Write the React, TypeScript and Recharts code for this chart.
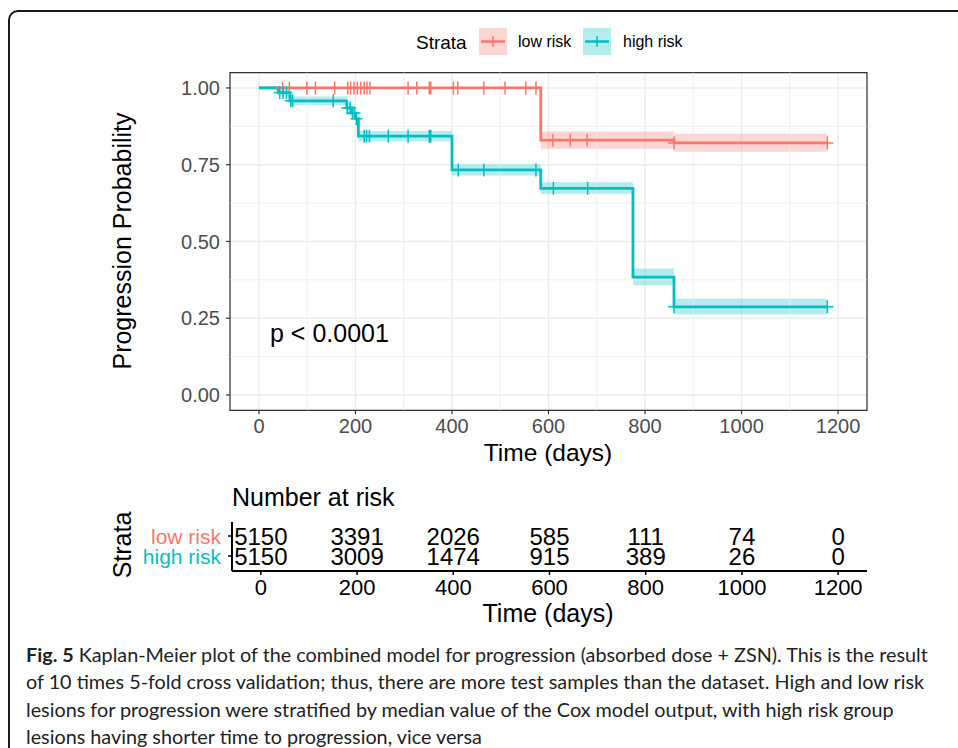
import React from 'react';
import {
  ComposedChart, Line, Area, Scatter, XAxis, YAxis, CartesianGrid,
  ReferenceLine, ReferenceArea,
} from 'recharts';

// Kaplan-Meier steps (time in days, survival, 95% band)
const lowTimes = [0, 584, 860, 1178];
const lowSurv = [1, 0.83, 0.821, 0.821];
const lowLower = [1, 0.802, 0.792, 0.792];
const lowUpper = [1, 0.858, 0.851, 0.851];

const highTimes = [0, 40, 64, 182, 192, 200, 206, 400, 584, 775, 860, 1178];
const highSurv = [1, 0.985, 0.958, 0.935, 0.918, 0.9, 0.843, 0.733, 0.673, 0.384, 0.287, 0.287];
const highLower = [1, 0.975, 0.944, 0.92, 0.902, 0.883, 0.826, 0.715, 0.655, 0.357, 0.262, 0.262];
const highUpper = [1, 0.995, 0.972, 0.95, 0.934, 0.917, 0.86, 0.751, 0.693, 0.412, 0.313, 0.313];

// censoring times
const lowCensor = [49, 63, 99, 117, 157, 184, 190, 197, 204, 211, 218, 224, 230, 309, 327, 353, 356,
  403, 412, 466, 510, 553, 574, 609, 645, 680, 860, 1178];
const highCensor = [43, 50, 57, 66, 70, 154, 183, 189, 194, 198, 202, 218, 223, 229, 268, 309, 353, 356,
  413, 466, 574, 610, 681, 860, 1178];

// number at risk table
const riskTimes = [0, 200, 400, 600, 800, 1000, 1200];
const lowAtRisk = [5150, 3391, 2026, 585, 111, 74, 0];
const highAtRisk = [5150, 3009, 1474, 915, 389, 26, 0];

const xTicks = [0, 200, 400, 600, 800, 1000, 1200];
const xMinor = [100, 300, 500, 700, 900, 1100];
const yTicks = [0, 0.25, 0.5, 0.75, 1];
const yMinor = [0.125, 0.375, 0.625, 0.875];

const RED = '#F8766D';
const TEAL = '#00BFC4';
const FONT = '"Liberation Sans", Arial, sans-serif';

const steps = (t: number[], s: number[], lo: number[], hi: number[]) =>
  t.map((x, i) => ({ x, y: s[i], band: [lo[i], hi[i]] }));

const survAt = (t: number[], s: number[], time: number) => {
  let v = s[0];
  t.forEach((x, i) => { if (x <= time) v = s[i]; });
  return v;
};

const lowData = steps(lowTimes, lowSurv, lowLower, lowUpper);
const highData = steps(highTimes, highSurv, highLower, highUpper);
const lowCensorData = lowCensor.map(x => ({ x, y: survAt(lowTimes, lowSurv, x) }));
const highCensorData = highCensor.map(x => ({ x, y: survAt(highTimes, highSurv, x) }));

const riskRows = [
  ...riskTimes.map((x, i) => ({ x, y: 1.75, n: lowAtRisk[i] })),
  ...riskTimes.map((x, i) => ({ x, y: 0.75, n: highAtRisk[i] })),
];

const censorShape = (color: string) => (p: any) => (
  <g>
    <line x1={p.cx - 6} x2={p.cx + 6} y1={p.cy} y2={p.cy} stroke={color} strokeWidth={1.5} />
    <line x1={p.cx} x2={p.cx} y1={p.cy - 6.5} y2={p.cy + 6.5} stroke={color} strokeWidth={1.5} />
  </g>
);

const abs = (left: number, top: number, size: number, extra: React.CSSProperties = {}): React.CSSProperties => ({
  position: 'absolute', left, top: top - size / 2, fontSize: size, lineHeight: 1,
  fontFamily: FONT, whiteSpace: 'nowrap', color: '#000', ...extra,
});

const rotated = (cx: number, cy: number, size: number): React.CSSProperties => ({
  position: 'absolute', left: cx, top: cy, fontSize: size, lineHeight: 1, fontFamily: FONT,
  whiteSpace: 'nowrap', transform: 'translate(-50%, -50%) rotate(-90deg)', color: '#000',
});

const LegendKey = ({ color, fill }: { color: string; fill: string }) => (
  <svg width={28} height={27} style={{ display: 'block' }}>
    <rect x={0} y={0} width={28} height={27} fill={fill} />
    <line x1={2} x2={26} y1={13.5} y2={13.5} stroke={color} strokeWidth={2.5} />
    <line x1={14} x2={14} y1={8} y2={19} stroke={color} strokeWidth={1.5} />
  </svg>
);

export default function App() {
  const tickStyle = { fontSize: 20, fill: '#4D4D4D', fontFamily: FONT };
  return (
    <div style={{ position: 'absolute', left: 0, top: 0, width: 958, height: 748, background: '#fff', overflow: 'hidden' }}>
      <div style={{
        position: 'absolute', left: 8, top: 10, width: 1000, height: 800,
        border: '2px solid #1a1a1a', borderRadius: 10,
      }} />

      {/* legend */}
      <div style={abs(416, 42, 19)}>Strata</div>
      <div style={{ position: 'absolute', left: 479, top: 28 }}><LegendKey color={RED} fill="#FDD6D3" /></div>
      <div style={abs(518, 42, 16)}>low risk</div>
      <div style={{ position: 'absolute', left: 583, top: 28 }}><LegendKey color={TEAL} fill="#B2ECED" /></div>
      <div style={abs(623, 42, 16)}>high risk</div>

      {/* survival curves */}
      <div style={{ position: 'absolute', left: 0, top: 0 }}>
        <ComposedChart width={958} height={470} margin={{ top: 72.6, right: 91, left: 170, bottom: 29.7 }}>
          <CartesianGrid stroke="#EBEBEB" strokeWidth={1.4} />
          {xMinor.map(v => <ReferenceLine key={'vx' + v} x={v} stroke="#EBEBEB" strokeWidth={0.8} />)}
          {yMinor.map(v => <ReferenceLine key={'hy' + v} y={v} stroke="#EBEBEB" strokeWidth={0.8} />)}
          <XAxis type="number" dataKey="x" domain={[-60, 1260]} ticks={xTicks} allowDataOverflow
            axisLine={false} tickLine={{ stroke: '#333', strokeWidth: 1.2 }} tickSize={4} tickMargin={4}
            tick={tickStyle} height={30} interval={0} />
          <YAxis type="number" domain={[-0.05, 1.05]} ticks={yTicks} allowDataOverflow
            axisLine={false} tickLine={{ stroke: '#333', strokeWidth: 1.2 }} tickSize={4} tickMargin={6}
            tick={tickStyle} width={60} interval={0} tickFormatter={(v: number) => v.toFixed(2)} />
          <Area data={lowData} dataKey="band" type="stepAfter" fill={RED} fillOpacity={0.3}
            stroke="none" isAnimationActive={false} />
          <Area data={highData} dataKey="band" type="stepAfter" fill={TEAL} fillOpacity={0.3}
            stroke="none" isAnimationActive={false} />
          <Line data={lowData} dataKey="y" type="stepAfter" stroke={RED} strokeWidth={2.8}
            dot={false} isAnimationActive={false} />
          <Scatter data={lowCensorData} dataKey="y" shape={censorShape(RED)} isAnimationActive={false} />
          <Line data={highData} dataKey="y" type="stepAfter" stroke={TEAL} strokeWidth={2.8}
            dot={false} isAnimationActive={false} />
          <Scatter data={highCensorData} dataKey="y" shape={censorShape(TEAL)} isAnimationActive={false} />
          <ReferenceArea x1={-60} x2={1260} y1={-0.05} y2={1.05} fill="none" stroke="#333" strokeWidth={1.2} />
        </ComposedChart>
      </div>

      <div style={rotated(122, 241, 25)}>Progression Probability</div>
      <div style={{ ...abs(548, 453, 24.5), transform: 'translateX(-50%)' }}>Time (days)</div>
      <div style={abs(270, 333, 25)}>p &lt; 0.0001</div>

      {/* number at risk */}
      <div style={abs(232, 497, 25)}>Number at risk</div>
      <div style={{ position: 'absolute', left: 0, top: 460 }}>
        <ComposedChart width={958} height={180} margin={{ top: 62, right: 91, left: 152, bottom: 39 }}>
          <XAxis type="number" dataKey="x" domain={[-60, 1260]} ticks={xTicks} allowDataOverflow
            axisLine={{ stroke: '#000', strokeWidth: 2 }} tickLine={{ stroke: '#000', strokeWidth: 1.5 }}
            tickSize={4} tickMargin={4} height={30} interval={0}
            tick={{ fontSize: 22, fill: '#000', fontFamily: FONT }} />
          <YAxis type="number" domain={[0, 2.45]} ticks={[0.75, 1.75]} allowDataOverflow width={80}
            axisLine={{ stroke: '#000', strokeWidth: 2 }} tickLine={{ stroke: '#000', strokeWidth: 1.5 }}
            tickSize={4} tickMargin={7} interval={0}
            tick={(p: any) => (
              <text x={p.x} y={p.y} textAnchor="end" dominantBaseline="central" fontSize={21}
                fontFamily={FONT} fill={p.payload.value > 1 ? RED : TEAL}>
                {p.payload.value > 1 ? 'low risk' : 'high risk'}
              </text>
            )} />
          <Scatter data={riskRows} dataKey="y" isAnimationActive={false}
            shape={(p: any) => (
              <text x={p.cx} y={p.cy} textAnchor="middle" dominantBaseline="central" fontSize={24}
                fontFamily={FONT} fill="#000">{p.payload.n}</text>
            )} />
        </ComposedChart>
      </div>
      <div style={rotated(122, 545, 25)}>Strata</div>
      <div style={{ ...abs(548, 613, 25), transform: 'translateX(-50%)' }}>Time (days)</div>

      {/* caption */}
      <div style={{
        position: 'absolute', left: 26, top: 641, fontFamily: 'Lato, sans-serif', fontSize: 19.8,
        lineHeight: '27.3px', color: '#222', whiteSpace: 'nowrap',
      }}>
        <b>Fig. 5</b> Kaplan-Meier plot of the combined model for progression (absorbed dose + ZSN). This is the result<br />
        of 10 times 5-fold cross validation; thus, there are more test samples than the dataset. High and low risk<br />
        lesions for progression were stratified by median value of the Cox model output, with high risk group<br />
        lesions having shorter time to progression, vice versa
      </div>
    </div>
  );
}
